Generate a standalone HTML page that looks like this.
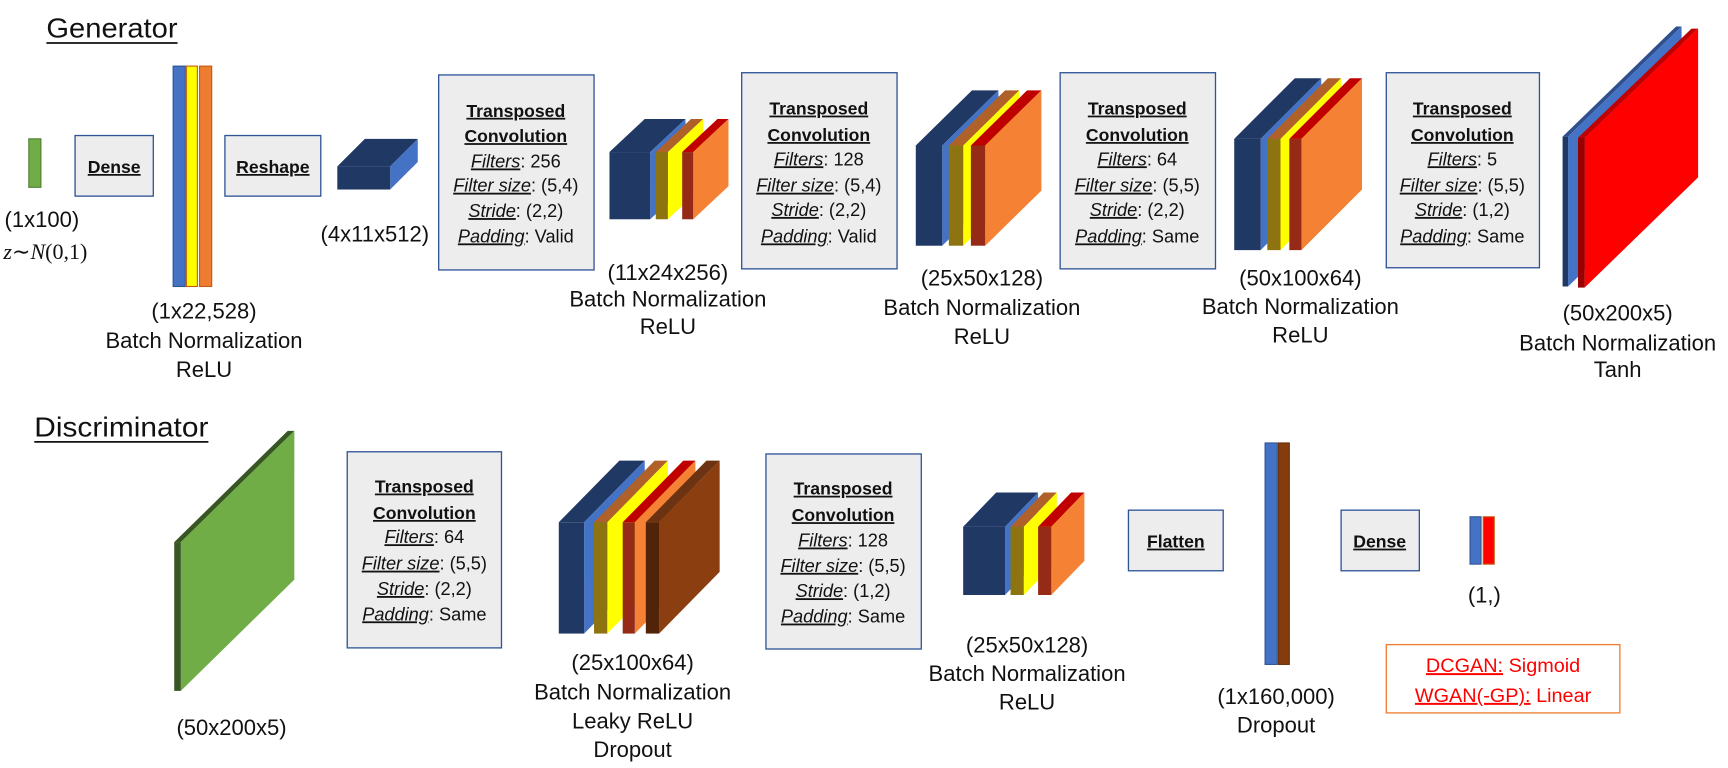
<!DOCTYPE html>
<html><head><meta charset="utf-8"><style>
html,body{margin:0;padding:0;background:#fff;}
svg{display:block;}
text{font-family:"Liberation Sans",sans-serif;fill:#111;}
.b{fill:#EDEDED;stroke:#2F5597;stroke-width:1.2;}
.t{font-size:16.5px;text-anchor:middle;}
.tb{font-size:16px;font-weight:bold;text-anchor:middle;text-decoration:underline;}
.l{font-size:20px;text-anchor:middle;}
.i{font-style:italic;text-decoration:underline;}
</style></head><body>
<svg width="1728" height="768" viewBox="0 0 1568 697" xmlns="http://www.w3.org/2000/svg">
<rect width="1568" height="697" fill="#fff"/>
<text x="42" y="34" font-size="25" textLength="119" lengthAdjust="spacingAndGlyphs">Generator</text>
<line x1="42" y1="39" x2="161" y2="39" stroke="#111" stroke-width="1.6"/>
<text x="31" y="396" font-size="25" textLength="158" lengthAdjust="spacingAndGlyphs">Discriminator</text>
<line x1="31" y1="401" x2="189" y2="401" stroke="#111" stroke-width="1.6"/>

<rect x="26" y="126" width="11" height="44" fill="#70AD47" stroke="#507E32" stroke-width="1"/>
<text x="4" y="206" font-size="20">(1x100)</text>
<text x="3" y="235" font-size="20" style="font-family:'Liberation Serif',serif"><tspan font-style="italic">z</tspan>∼<tspan font-style="italic">N</tspan>(0,1)</text>

<rect class="b" x="68" y="123" width="71" height="55"/>
<text class="tb" x="103.5" y="157">Dense</text>

<rect x="157" y="60" width="11" height="200" fill="#4472C4" stroke="#2F5597" stroke-width="1"/>
<rect x="169" y="60" width="10" height="200" fill="#FFFF00" stroke="#C55A11" stroke-width="1"/>
<rect x="181" y="60" width="11" height="200" fill="#ED7D31" stroke="#C55A11" stroke-width="1"/>
<text class="l" x="185" y="289">(1x22,528)</text>
<text class="l" x="185" y="316">Batch Normalization</text>
<text class="l" x="185" y="342">ReLU</text>

<rect class="b" x="204" y="123" width="87" height="55"/>
<text class="tb" x="247.5" y="157">Reshape</text>

<polygon points="306,151 354,151 379,126 331,126" fill="#203864"/>
<polygon points="354,151 379,126 379,147 354,172" fill="#4472C4"/>
<rect x="306" y="151" width="48" height="21" fill="#203864"/>
<text class="l" x="340" y="219">(4x11x512)</text>

<rect class="b" x="398" y="68" width="141" height="177"/>
<text class="tb" x="468" y="106">Transposed</text>
<text class="tb" x="468" y="129">Convolution</text>
<text class="t" x="468" y="152"><tspan class="i">Filters</tspan>: 256</text>
<text class="t" x="468" y="174"><tspan class="i">Filter size</tspan>: (5,4)</text>
<text class="t" x="468" y="197"><tspan class="i">Stride</tspan>: (2,2)</text>
<text class="t" x="468" y="220"><tspan class="i">Padding</tspan>: Valid</text>

<g>
<polygon points="553,138 590,138 622,108 585,108" fill="#203864"/>
<polygon points="590,138 622,108 622,169 590,199" fill="#4472C4"/>
<rect x="553" y="138" width="37" height="61" fill="#203864"/>
<polygon points="595,138 606,138 638,108 627,108" fill="#B0612A"/>
<polygon points="606,138 638,108 638,169 606,199" fill="#FFFF00"/>
<rect x="595" y="138" width="11" height="61" fill="#8E7410"/>
<polygon points="619,138 629,138 661,108 651,108" fill="#C00000"/>
<polygon points="629,138 661,108 661,169 629,199" fill="#F58134"/>
<rect x="619" y="138" width="10" height="61" fill="#952A17"/>
</g>
<text class="l" x="606" y="254">(11x24x256)</text>
<text class="l" x="606" y="278">Batch Normalization</text>
<text class="l" x="606" y="303">ReLU</text>

<rect class="b" x="673" y="66" width="141" height="178"/>
<text class="tb" x="743" y="104">Transposed</text>
<text class="tb" x="743" y="128">Convolution</text>
<text class="t" x="743" y="150"><tspan class="i">Filters</tspan>: 128</text>
<text class="t" x="743" y="174"><tspan class="i">Filter size</tspan>: (5,4)</text>
<text class="t" x="743" y="196"><tspan class="i">Stride</tspan>: (2,2)</text>
<text class="t" x="743" y="220"><tspan class="i">Padding</tspan>: Valid</text>

<!-- block3 -->
<g>
<polygon points="831,132 855,132 906,82 882,82" fill="#203864"/>
<polygon points="855,132 906,82 906,173 855,223" fill="#4472C4"/>
<rect x="831" y="132" width="24" height="91" fill="#203864"/>
<polygon points="861,132 874,132 925,82 912,82" fill="#B0612A"/>
<polygon points="874,132 925,82 925,173 874,223" fill="#FFFF00"/>
<rect x="861" y="132" width="13" height="91" fill="#8E7410"/>
<polygon points="881,132 894,132 945,82 932,82" fill="#C00000"/>
<polygon points="894,132 945,82 945,173 894,223" fill="#F58134"/>
<rect x="881" y="132" width="13" height="91" fill="#952A17"/>
</g>
<text class="l" x="891" y="259">(25x50x128)</text>
<text class="l" x="891" y="286">Batch Normalization</text>
<text class="l" x="891" y="312">ReLU</text>

<rect class="b" x="962" y="66" width="141" height="178"/>
<text class="tb" x="1032" y="104">Transposed</text>
<text class="tb" x="1032" y="128">Convolution</text>
<text class="t" x="1032" y="150"><tspan class="i">Filters</tspan>: 64</text>
<text class="t" x="1032" y="174"><tspan class="i">Filter size</tspan>: (5,5)</text>
<text class="t" x="1032" y="196"><tspan class="i">Stride</tspan>: (2,2)</text>
<text class="t" x="1032" y="220"><tspan class="i">Padding</tspan>: Same</text>

<!-- block4 -->
<g>
<polygon points="1120,126 1144,126 1199,71 1175,71" fill="#203864"/>
<polygon points="1144,126 1199,71 1199,172 1144,227" fill="#4472C4"/>
<rect x="1120" y="126" width="24" height="101" fill="#203864"/>
<polygon points="1150,126 1162,126 1217,71 1205,71" fill="#B0612A"/>
<polygon points="1162,126 1217,71 1217,172 1162,227" fill="#FFFF00"/>
<rect x="1150" y="126" width="12" height="101" fill="#8E7410"/>
<polygon points="1170,126 1181,126 1236,71 1225,71" fill="#C00000"/>
<polygon points="1181,126 1236,71 1236,172 1181,227" fill="#F58134"/>
<rect x="1170" y="126" width="11" height="101" fill="#952A17"/>
</g>
<text class="l" x="1180" y="259">(50x100x64)</text>
<text class="l" x="1180" y="285">Batch Normalization</text>
<text class="l" x="1180" y="311">ReLU</text>

<rect class="b" x="1258" y="66" width="139" height="177"/>
<text class="tb" x="1327" y="104">Transposed</text>
<text class="tb" x="1327" y="128">Convolution</text>
<text class="t" x="1327" y="150"><tspan class="i">Filters</tspan>: 5</text>
<text class="t" x="1327" y="174"><tspan class="i">Filter size</tspan>: (5,5)</text>
<text class="t" x="1327" y="196"><tspan class="i">Stride</tspan>: (1,2)</text>
<text class="t" x="1327" y="220"><tspan class="i">Padding</tspan>: Same</text>

<g>
<polygon points="1418,124 1423,124 1526,24 1521,24" fill="#2F4F8F"/>
<polygon points="1423,124 1526,24 1526,160 1423,260" fill="#4472C4"/>
<rect x="1418" y="124" width="5" height="136" fill="#203864"/>
<polygon points="1432,125 1438,125 1541,26 1535,26" fill="#C00000"/>
<polygon points="1438,125 1541,26 1541,161 1438,261" fill="#FF0000"/>
<rect x="1432" y="125" width="6" height="136" fill="#990000"/>
</g>
<text class="l" x="1468" y="291">(50x200x5)</text>
<text class="l" x="1468" y="318">Batch Normalization</text>
<text class="l" x="1468" y="342">Tanh</text>

<g>
<polygon points="158,492 164,492 267,391 261,391" fill="#375623"/>
<polygon points="164,492 267,391 267,526 164,627" fill="#70AD47"/>
<rect x="158" y="492" width="6" height="135" fill="#375623"/>
</g>
<text class="l" x="210" y="667">(50x200x5)</text>

<rect class="b" x="315" y="410" width="140" height="178"/>
<text class="tb" x="385" y="447">Transposed</text>
<text class="tb" x="385" y="471">Convolution</text>
<text class="t" x="385" y="493"><tspan class="i">Filters</tspan>: 64</text>
<text class="t" x="385" y="517"><tspan class="i">Filter size</tspan>: (5,5)</text>
<text class="t" x="385" y="540"><tspan class="i">Stride</tspan>: (2,2)</text>
<text class="t" x="385" y="563"><tspan class="i">Padding</tspan>: Same</text>

<g>
<polygon points="507,474 530,474 585,418 562,418" fill="#203864"/>
<polygon points="530,474 585,418 585,519 530,575" fill="#4472C4"/>
<rect x="507" y="474" width="23" height="101" fill="#203864"/>
<polygon points="539,474 551,474 606,418 594,418" fill="#B0612A"/>
<polygon points="551,474 606,418 606,519 551,575" fill="#FFFF00"/>
<rect x="539" y="474" width="12" height="101" fill="#8E7410"/>
<polygon points="565,474 576,474 631,418 620,418" fill="#C00000"/>
<polygon points="576,474 631,418 631,519 576,575" fill="#F58134"/>
<rect x="565" y="474" width="11" height="101" fill="#952A17"/>
<polygon points="586,474 598,474 653,418 641,418" fill="#6B3311"/>
<polygon points="598,474 653,418 653,519 598,575" fill="#8B3E0F"/>
<rect x="586" y="474" width="12" height="101" fill="#512308"/>
</g>
<text class="l" x="574" y="608">(25x100x64)</text>
<text class="l" x="574" y="635">Batch Normalization</text>
<text class="l" x="574" y="661">Leaky ReLU</text>
<text class="l" x="574" y="687">Dropout</text>

<rect class="b" x="695" y="412" width="141" height="177"/>
<text class="tb" x="765" y="449">Transposed</text>
<text class="tb" x="765" y="473">Convolution</text>
<text class="t" x="765" y="496"><tspan class="i">Filters</tspan>: 128</text>
<text class="t" x="765" y="519"><tspan class="i">Filter size</tspan>: (5,5)</text>
<text class="t" x="765" y="542"><tspan class="i">Stride</tspan>: (1,2)</text>
<text class="t" x="765" y="565"><tspan class="i">Padding</tspan>: Same</text>

<g>
<polygon points="874,478 912,478 942,447 904,447" fill="#203864"/>
<polygon points="912,478 942,447 942,509 912,540" fill="#4472C4"/>
<rect x="874" y="478" width="38" height="62" fill="#203864"/>
<polygon points="917,478 929,478 959,447 947,447" fill="#B0612A"/>
<polygon points="929,478 959,447 959,509 929,540" fill="#FFFF00"/>
<rect x="917" y="478" width="12" height="62" fill="#8E7410"/>
<polygon points="942,478 954,478 984,447 972,447" fill="#C00000"/>
<polygon points="954,478 984,447 984,509 954,540" fill="#F58134"/>
<rect x="942" y="478" width="12" height="62" fill="#952A17"/>
</g>
<text class="l" x="932" y="592">(25x50x128)</text>
<text class="l" x="932" y="618">Batch Normalization</text>
<text class="l" x="932" y="644">ReLU</text>

<rect class="b" x="1024" y="463" width="86" height="55"/>
<text class="tb" x="1067" y="497">Flatten</text>

<rect x="1148" y="402" width="11" height="201" fill="#4472C4" stroke="#2F5597" stroke-width="1"/>
<rect x="1160" y="402" width="10" height="201" fill="#843C0C" stroke="#6B300A" stroke-width="1"/>
<text class="l" x="1158" y="639">(1x160,000)</text>
<text class="l" x="1158" y="665">Dropout</text>

<rect class="b" x="1217" y="463" width="71" height="55"/>
<text class="tb" x="1252" y="497">Dense</text>

<rect x="1334" y="469" width="10" height="43" fill="#4472C4" stroke="#2F5597" stroke-width="1"/>
<rect x="1346" y="469" width="10" height="43" fill="#FF0000" stroke="#C55A11" stroke-width="1"/>
<text class="l" x="1347" y="547">(1,)</text>

<rect x="1258" y="585" width="212" height="62" fill="#fff" stroke="#ED7D31" stroke-width="1.2"/>
<text x="1364" y="610" font-size="18" text-anchor="middle" style="fill:#FF0000"><tspan text-decoration="underline" style="fill:#FF0000">DCGAN:</tspan> Sigmoid</text>
<text x="1364" y="637" font-size="18" text-anchor="middle" style="fill:#FF0000"><tspan text-decoration="underline" style="fill:#FF0000">WGAN(-GP):</tspan> Linear</text>
</svg>
</body></html>
